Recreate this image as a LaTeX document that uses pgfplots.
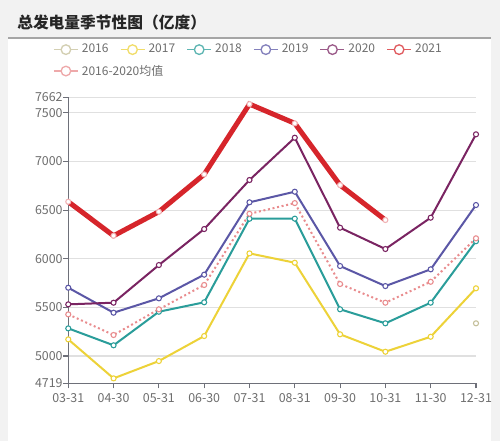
\documentclass[border=0pt]{standalone}
\usepackage{fontspec}
\setmainfont{Noto Sans CJK SC}
\usepackage{pgfplots}
\pgfplotsset{compat=1.18}

\definecolor{c2016}{HTML}{C4BF99}
\definecolor{c2017}{HTML}{EDD238}
\definecolor{c2018}{HTML}{2A9D9A}
\definecolor{c2019}{HTML}{5B57A6}
\definecolor{c2020}{HTML}{7A2462}
\definecolor{c2021}{HTML}{D6252B}
\definecolor{cavg}{HTML}{E98C8E}
\definecolor{axisgray}{HTML}{6E7079}
\definecolor{labelgray}{HTML}{6E6E6E}
\definecolor{gridgray}{HTML}{E0E0E0}

% legend icon: short line with an open circle
\newcommand\legicon[1]{%
  \draw[#1!75!white, solid, line width=1pt] (0pt,0pt) -- (18pt,0pt);
  \draw[#1!75!white, solid, line width=1pt, fill=white] (9pt,0pt) circle (3.6pt);}

\begin{document}
\begin{tikzpicture}
\begin{scope}[x=0.75pt,y=-0.75pt]
  \fill[black!5] (0,0) rectangle (500,441);
  \fill[white] (8,38) rectangle (491,441);
  \draw[black!35, line width=0.8pt] (8,38) -- (491,38);
  \node[anchor=west, inner sep=0pt, text=black!85,
        font=\bfseries\fontsize{11.8}{13}\selectfont] at (17,22.5) {总发电量季节性图（亿度）};
  \path[use as bounding box] (0,0) rectangle (500,441);
\end{scope}

\begin{axis}[
    at={(51.2pt,-287.5pt)}, anchor=south west,
    scale only axis, width=305.8pt, height=214.7pt,
    xmin=0, xmax=9, ymin=4719, ymax=7662,
    axis x line*=bottom, axis y line*=left,
    axis line style={draw=axisgray, line width=0.8pt},
    xtick={0,...,9},
    xticklabels={03-31,04-30,05-31,06-30,07-31,08-31,09-30,10-31,11-30,12-31},
    ytick={4719,5000,5500,6000,6500,7000,7500,7662},
    yticklabels={4719,5000,5500,6000,6500,7000,7500,7662},
    tick align=outside, major tick length=3.75pt,
    tick style={draw=axisgray, line width=0.8pt},
    ymajorgrids, grid style={gridgray, line width=0.8pt},
    tick label style={font=\fontsize{9.3}{10}\selectfont, text=labelgray},
    yticklabel style={xshift=3pt},
    clip=false,
    every axis plot/.append style={line width=1.5pt, mark=*, mark size=1.9pt,
        mark options={fill=white, solid, line width=0.8pt}},
    legend columns=6,
    legend cell align=left,
    legend style={at={(axis description cs:-0.0375,1.19)}, anchor=north west,
        draw=none, fill=none, inner sep=0pt,
        font=\fontsize{9}{10}\selectfont, text=labelgray,
        nodes={inner sep=1pt},
        row sep=5.5pt,
        /tikz/every odd column/.append style={column sep=1.5pt},
        /tikz/every even column/.append style={column sep=7.5pt}},
]

\addplot[c2016, only marks, legend image code/.code={\legicon{c2016}}]
  coordinates {(9,5336)};
\addlegendentry{2016}

\addplot[c2017, legend image code/.code={\legicon{c2017}}]
  coordinates {(0,5171)(1,4770)(2,4948)(3,5205)(4,6055)(5,5959)(6,5223)(7,5044)(8,5198)(9,5696)};
\addlegendentry{2017}

\addplot[c2018, legend image code/.code={\legicon{c2018}}]
  coordinates {(0,5284)(1,5110)(2,5455)(3,5552)(4,6411)(5,6412)(6,5480)(7,5336)(8,5548)(9,6180)};
\addlegendentry{2018}

\addplot[c2019, legend image code/.code={\legicon{c2019}}]
  coordinates {(0,5702)(1,5445)(2,5593)(3,5836)(4,6580)(5,6689)(6,5925)(7,5719)(8,5891)(9,6552)};
\addlegendentry{2019}

\addplot[c2020, legend image code/.code={\legicon{c2020}}]
  coordinates {(0,5531)(1,5548)(2,5935)(3,6305)(4,6809)(5,7244)(6,6319)(7,6100)(8,6422)(9,7279)};
\addlegendentry{2020}

\addplot[c2021, line width=3.75pt, mark options={fill=white, draw=c2021!35!white, line width=0.8pt},
    legend image code/.code={\legicon{c2021}}]
  coordinates {(0,6586)(1,6236)(2,6483)(3,6867)(4,7590)(5,7392)(6,6757)(7,6398)};
\addlegendentry{2021}

\addplot[cavg, dotted, legend image code/.code={\legicon{cavg}}]
  coordinates {(0,5428)(1,5216)(2,5480)(3,5730)(4,6462)(5,6572)(6,5740)(7,5548)(8,5763)(9,6210)};
\addlegendentry{\makebox[0pt][l]{2016-2020均值}}

\end{axis}
\end{tikzpicture}
\end{document}
